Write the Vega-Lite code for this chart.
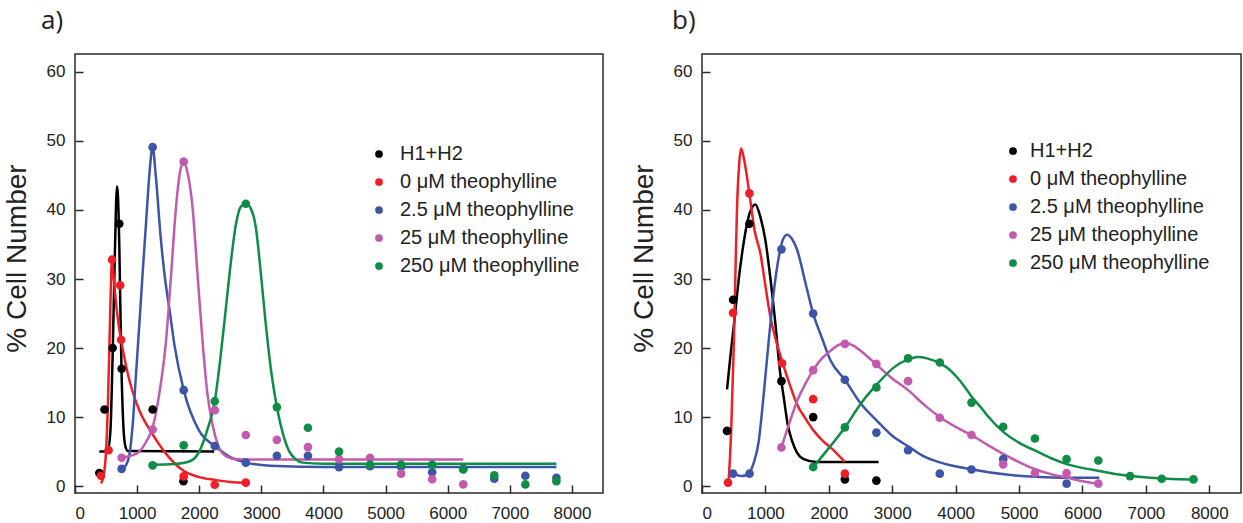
{
  "$schema": "https://vega.github.io/schema/vega-lite/v6.json",
  "padding": {"left": 2, "top": 7, "right": 0, "bottom": 0},
  "background": "white",
  "config": {
    "font": "Liberation Sans",
    "view": {"stroke": "#2a2a2a", "strokeWidth": 1.5},
    "axis": {"domain": false, "grid": false, "tickColor": "#2a2a2a", "tickWidth": 1.5, "labelFontSize": 17, "labelColor": "#222", "titleColor": "#222", "titleFontWeight": "normal", "titleFontSize": 28, "titleFont": "Liberation Sans"},
    "legend": {"orient": "none", "title": null, "labelFontSize": 20, "labelColor": "#222", "labelLimit": 300, "symbolType": "circle", "symbolSize": 60, "symbolStrokeWidth": 0, "padding": 0, "rowPadding": 8, "labelOffset": 14},
    "title": {"fontSize": 26, "font": "Open Sans", "fontWeight": "normal", "anchor": "start", "frame": "bounds", "color": "#222"}
  },
  "datasets": {
    "a_pts": [
      {"series": "H1+H2", "fluor": 392, "pct": 1.9},
      {"series": "H1+H2", "fluor": 475, "pct": 11.1},
      {"series": "H1+H2", "fluor": 606, "pct": 20.0},
      {"series": "H1+H2", "fluor": 713, "pct": 38.0},
      {"series": "H1+H2", "fluor": 751, "pct": 17.0},
      {"series": "H1+H2", "fluor": 1250, "pct": 11.1},
      {"series": "H1+H2", "fluor": 1746, "pct": 0.7},
      {"series": "0 μM theophylline", "fluor": 418, "pct": 1.5},
      {"series": "0 μM theophylline", "fluor": 540, "pct": 5.2},
      {"series": "0 μM theophylline", "fluor": 596, "pct": 32.8},
      {"series": "0 μM theophylline", "fluor": 727, "pct": 29.1},
      {"series": "0 μM theophylline", "fluor": 743, "pct": 21.2},
      {"series": "0 μM theophylline", "fluor": 1750, "pct": 1.4},
      {"series": "0 μM theophylline", "fluor": 2250, "pct": 0.2},
      {"series": "0 μM theophylline", "fluor": 2750, "pct": 0.5},
      {"series": "2.5 μM theophylline", "fluor": 751, "pct": 2.5},
      {"series": "2.5 μM theophylline", "fluor": 1250, "pct": 49.1},
      {"series": "2.5 μM theophylline", "fluor": 1750, "pct": 13.9},
      {"series": "2.5 μM theophylline", "fluor": 2250, "pct": 5.8},
      {"series": "2.5 μM theophylline", "fluor": 2750, "pct": 3.4},
      {"series": "2.5 μM theophylline", "fluor": 3250, "pct": 4.4},
      {"series": "2.5 μM theophylline", "fluor": 3750, "pct": 4.4},
      {"series": "2.5 μM theophylline", "fluor": 4250, "pct": 2.75},
      {"series": "2.5 μM theophylline", "fluor": 4750, "pct": 2.9},
      {"series": "2.5 μM theophylline", "fluor": 5250, "pct": 2.8},
      {"series": "2.5 μM theophylline", "fluor": 5750, "pct": 2.0},
      {"series": "2.5 μM theophylline", "fluor": 6250, "pct": 2.5},
      {"series": "2.5 μM theophylline", "fluor": 6750, "pct": 1.06},
      {"series": "2.5 μM theophylline", "fluor": 7250, "pct": 1.5},
      {"series": "2.5 μM theophylline", "fluor": 7750, "pct": 1.2},
      {"series": "25 μM theophylline", "fluor": 751, "pct": 4.1},
      {"series": "25 μM theophylline", "fluor": 1250, "pct": 8.2},
      {"series": "25 μM theophylline", "fluor": 1750, "pct": 47.0},
      {"series": "25 μM theophylline", "fluor": 2250, "pct": 11.0},
      {"series": "25 μM theophylline", "fluor": 2750, "pct": 7.4},
      {"series": "25 μM theophylline", "fluor": 3250, "pct": 6.7},
      {"series": "25 μM theophylline", "fluor": 3750, "pct": 5.65},
      {"series": "25 μM theophylline", "fluor": 4250, "pct": 3.9},
      {"series": "25 μM theophylline", "fluor": 4750, "pct": 4.1},
      {"series": "25 μM theophylline", "fluor": 5250, "pct": 1.8},
      {"series": "25 μM theophylline", "fluor": 5750, "pct": 1.0},
      {"series": "25 μM theophylline", "fluor": 6250, "pct": 0.25},
      {"series": "250 μM theophylline", "fluor": 1250, "pct": 3.0},
      {"series": "250 μM theophylline", "fluor": 1750, "pct": 5.9},
      {"series": "250 μM theophylline", "fluor": 2250, "pct": 12.3},
      {"series": "250 μM theophylline", "fluor": 2750, "pct": 40.9},
      {"series": "250 μM theophylline", "fluor": 3250, "pct": 11.45},
      {"series": "250 μM theophylline", "fluor": 3750, "pct": 8.45},
      {"series": "250 μM theophylline", "fluor": 4250, "pct": 5.0},
      {"series": "250 μM theophylline", "fluor": 4750, "pct": 3.1},
      {"series": "250 μM theophylline", "fluor": 5250, "pct": 3.1},
      {"series": "250 μM theophylline", "fluor": 5750, "pct": 3.1},
      {"series": "250 μM theophylline", "fluor": 6250, "pct": 2.4},
      {"series": "250 μM theophylline", "fluor": 6750, "pct": 1.55},
      {"series": "250 μM theophylline", "fluor": 7250, "pct": 0.24},
      {"series": "250 μM theophylline", "fluor": 7750, "pct": 0.72}
    ],
    "a_fit": [
      {"series": "H1+H2", "fluor": 392, "pct": 5.0},
      {"series": "H1+H2", "fluor": 526, "pct": 5.1},
      {"series": "H1+H2", "fluor": 570, "pct": 8.0},
      {"series": "H1+H2", "fluor": 606, "pct": 19.0},
      {"series": "H1+H2", "fluor": 640, "pct": 33.0},
      {"series": "H1+H2", "fluor": 676, "pct": 43.4},
      {"series": "H1+H2", "fluor": 700, "pct": 40.0},
      {"series": "H1+H2", "fluor": 713, "pct": 35.0},
      {"series": "H1+H2", "fluor": 730, "pct": 26.0},
      {"series": "H1+H2", "fluor": 751, "pct": 16.0},
      {"series": "H1+H2", "fluor": 780, "pct": 8.5},
      {"series": "H1+H2", "fluor": 810, "pct": 5.8},
      {"series": "H1+H2", "fluor": 848, "pct": 5.1},
      {"series": "H1+H2", "fluor": 2240, "pct": 5.0},
      {"series": "0 μM theophylline", "fluor": 420, "pct": 0.4},
      {"series": "0 μM theophylline", "fluor": 470, "pct": 2.0},
      {"series": "0 μM theophylline", "fluor": 500, "pct": 5.0},
      {"series": "0 μM theophylline", "fluor": 530, "pct": 12.0},
      {"series": "0 μM theophylline", "fluor": 556, "pct": 21.0},
      {"series": "0 μM theophylline", "fluor": 575, "pct": 28.0},
      {"series": "0 μM theophylline", "fluor": 596, "pct": 32.8},
      {"series": "0 μM theophylline", "fluor": 620, "pct": 30.5},
      {"series": "0 μM theophylline", "fluor": 660, "pct": 26.5},
      {"series": "0 μM theophylline", "fluor": 700, "pct": 23.5},
      {"series": "0 μM theophylline", "fluor": 745, "pct": 21.0},
      {"series": "0 μM theophylline", "fluor": 820, "pct": 17.5},
      {"series": "0 μM theophylline", "fluor": 900, "pct": 14.5},
      {"series": "0 μM theophylline", "fluor": 1035, "pct": 11.0},
      {"series": "0 μM theophylline", "fluor": 1250, "pct": 7.5},
      {"series": "0 μM theophylline", "fluor": 1500, "pct": 4.3},
      {"series": "0 μM theophylline", "fluor": 1750, "pct": 2.2},
      {"series": "0 μM theophylline", "fluor": 2000, "pct": 1.3},
      {"series": "0 μM theophylline", "fluor": 2250, "pct": 0.9},
      {"series": "0 μM theophylline", "fluor": 2500, "pct": 0.6},
      {"series": "0 μM theophylline", "fluor": 2750, "pct": 0.5},
      {"series": "2.5 μM theophylline", "fluor": 751, "pct": 2.5},
      {"series": "2.5 μM theophylline", "fluor": 820, "pct": 3.0},
      {"series": "2.5 μM theophylline", "fluor": 875, "pct": 4.5},
      {"series": "2.5 μM theophylline", "fluor": 930, "pct": 9.0},
      {"series": "2.5 μM theophylline", "fluor": 982, "pct": 16.2},
      {"series": "2.5 μM theophylline", "fluor": 1040, "pct": 24.0},
      {"series": "2.5 μM theophylline", "fluor": 1088, "pct": 30.7},
      {"series": "2.5 μM theophylline", "fluor": 1150, "pct": 39.0},
      {"series": "2.5 μM theophylline", "fluor": 1196, "pct": 45.0},
      {"series": "2.5 μM theophylline", "fluor": 1250, "pct": 49.1},
      {"series": "2.5 μM theophylline", "fluor": 1300, "pct": 45.0},
      {"series": "2.5 μM theophylline", "fluor": 1380, "pct": 36.0},
      {"series": "2.5 μM theophylline", "fluor": 1450, "pct": 30.0},
      {"series": "2.5 μM theophylline", "fluor": 1518, "pct": 25.8},
      {"series": "2.5 μM theophylline", "fluor": 1600, "pct": 20.5},
      {"series": "2.5 μM theophylline", "fluor": 1750, "pct": 13.9},
      {"series": "2.5 μM theophylline", "fluor": 2000, "pct": 8.0},
      {"series": "2.5 μM theophylline", "fluor": 2250, "pct": 5.8},
      {"series": "2.5 μM theophylline", "fluor": 2500, "pct": 4.2},
      {"series": "2.5 μM theophylline", "fluor": 2750, "pct": 3.4},
      {"series": "2.5 μM theophylline", "fluor": 3250, "pct": 2.9},
      {"series": "2.5 μM theophylline", "fluor": 4000, "pct": 2.75},
      {"series": "2.5 μM theophylline", "fluor": 7750, "pct": 2.75},
      {"series": "25 μM theophylline", "fluor": 751, "pct": 4.1},
      {"series": "25 μM theophylline", "fluor": 900, "pct": 4.4},
      {"series": "25 μM theophylline", "fluor": 1035, "pct": 5.0},
      {"series": "25 μM theophylline", "fluor": 1150, "pct": 6.5},
      {"series": "25 μM theophylline", "fluor": 1250, "pct": 8.5},
      {"series": "25 μM theophylline", "fluor": 1350, "pct": 13.0},
      {"series": "25 μM theophylline", "fluor": 1465, "pct": 21.0},
      {"series": "25 μM theophylline", "fluor": 1550, "pct": 31.0},
      {"series": "25 μM theophylline", "fluor": 1625, "pct": 40.3},
      {"series": "25 μM theophylline", "fluor": 1690, "pct": 45.5},
      {"series": "25 μM theophylline", "fluor": 1750, "pct": 47.0},
      {"series": "25 μM theophylline", "fluor": 1810, "pct": 45.5},
      {"series": "25 μM theophylline", "fluor": 1893, "pct": 40.3},
      {"series": "25 μM theophylline", "fluor": 1970, "pct": 31.0},
      {"series": "25 μM theophylline", "fluor": 2053, "pct": 21.0},
      {"series": "25 μM theophylline", "fluor": 2130, "pct": 13.5},
      {"series": "25 μM theophylline", "fluor": 2214, "pct": 8.9},
      {"series": "25 μM theophylline", "fluor": 2300, "pct": 6.0},
      {"series": "25 μM theophylline", "fluor": 2429, "pct": 4.35},
      {"series": "25 μM theophylline", "fluor": 2600, "pct": 3.9},
      {"series": "25 μM theophylline", "fluor": 3000, "pct": 3.86},
      {"series": "25 μM theophylline", "fluor": 6250, "pct": 3.86},
      {"series": "250 μM theophylline", "fluor": 1250, "pct": 3.1},
      {"series": "250 μM theophylline", "fluor": 1600, "pct": 3.2},
      {"series": "250 μM theophylline", "fluor": 1850, "pct": 3.6},
      {"series": "250 μM theophylline", "fluor": 2000, "pct": 5.0},
      {"series": "250 μM theophylline", "fluor": 2125, "pct": 8.0},
      {"series": "250 μM theophylline", "fluor": 2250, "pct": 12.3},
      {"series": "250 μM theophylline", "fluor": 2340, "pct": 18.5},
      {"series": "250 μM theophylline", "fluor": 2429, "pct": 25.8},
      {"series": "250 μM theophylline", "fluor": 2510, "pct": 32.5},
      {"series": "250 μM theophylline", "fluor": 2590, "pct": 37.9},
      {"series": "250 μM theophylline", "fluor": 2670, "pct": 40.5},
      {"series": "250 μM theophylline", "fluor": 2750, "pct": 40.9},
      {"series": "250 μM theophylline", "fluor": 2830, "pct": 40.2},
      {"series": "250 μM theophylline", "fluor": 2911, "pct": 37.5},
      {"series": "250 μM theophylline", "fluor": 2990, "pct": 31.0},
      {"series": "250 μM theophylline", "fluor": 3072, "pct": 23.4},
      {"series": "250 μM theophylline", "fluor": 3160, "pct": 16.5},
      {"series": "250 μM theophylline", "fluor": 3250, "pct": 11.45},
      {"series": "250 μM theophylline", "fluor": 3350, "pct": 7.5},
      {"series": "250 μM theophylline", "fluor": 3447, "pct": 5.07},
      {"series": "250 μM theophylline", "fluor": 3550, "pct": 3.9},
      {"series": "250 μM theophylline", "fluor": 3660, "pct": 3.4},
      {"series": "250 μM theophylline", "fluor": 4000, "pct": 3.25},
      {"series": "250 μM theophylline", "fluor": 7750, "pct": 3.25}
    ],
    "b_pts": [
      {"series": "H1+H2", "fluor": 395, "pct": 8.0},
      {"series": "H1+H2", "fluor": 490, "pct": 27.0},
      {"series": "H1+H2", "fluor": 747, "pct": 38.0},
      {"series": "H1+H2", "fluor": 1253, "pct": 15.2},
      {"series": "H1+H2", "fluor": 1753, "pct": 10.0},
      {"series": "H1+H2", "fluor": 2253, "pct": 0.97},
      {"series": "H1+H2", "fluor": 2750, "pct": 0.8},
      {"series": "0 μM theophylline", "fluor": 410, "pct": 0.5},
      {"series": "0 μM theophylline", "fluor": 490, "pct": 25.1},
      {"series": "0 μM theophylline", "fluor": 747, "pct": 42.4},
      {"series": "0 μM theophylline", "fluor": 1263, "pct": 17.8},
      {"series": "0 μM theophylline", "fluor": 1753, "pct": 12.6},
      {"series": "0 μM theophylline", "fluor": 2253, "pct": 1.8},
      {"series": "2.5 μM theophylline", "fluor": 490, "pct": 1.8},
      {"series": "2.5 μM theophylline", "fluor": 750, "pct": 1.8},
      {"series": "2.5 μM theophylline", "fluor": 1253, "pct": 34.3},
      {"series": "2.5 μM theophylline", "fluor": 1753, "pct": 25.0},
      {"series": "2.5 μM theophylline", "fluor": 2253, "pct": 15.4},
      {"series": "2.5 μM theophylline", "fluor": 2750, "pct": 7.75},
      {"series": "2.5 μM theophylline", "fluor": 3250, "pct": 5.2},
      {"series": "2.5 μM theophylline", "fluor": 3750, "pct": 1.8},
      {"series": "2.5 μM theophylline", "fluor": 4250, "pct": 2.4},
      {"series": "2.5 μM theophylline", "fluor": 4750, "pct": 3.9},
      {"series": "2.5 μM theophylline", "fluor": 5750, "pct": 0.35},
      {"series": "25 μM theophylline", "fluor": 1253, "pct": 5.6},
      {"series": "25 μM theophylline", "fluor": 1753, "pct": 16.8},
      {"series": "25 μM theophylline", "fluor": 2253, "pct": 20.6},
      {"series": "25 μM theophylline", "fluor": 2750, "pct": 17.7},
      {"series": "25 μM theophylline", "fluor": 3250, "pct": 15.2},
      {"series": "25 μM theophylline", "fluor": 3750, "pct": 9.9},
      {"series": "25 μM theophylline", "fluor": 4250, "pct": 7.4},
      {"series": "25 μM theophylline", "fluor": 4750, "pct": 3.15},
      {"series": "25 μM theophylline", "fluor": 5250, "pct": 1.9},
      {"series": "25 μM theophylline", "fluor": 5750, "pct": 1.9},
      {"series": "25 μM theophylline", "fluor": 6250, "pct": 0.35},
      {"series": "250 μM theophylline", "fluor": 1753, "pct": 2.76},
      {"series": "250 μM theophylline", "fluor": 2253, "pct": 8.5},
      {"series": "250 μM theophylline", "fluor": 2750, "pct": 14.3},
      {"series": "250 μM theophylline", "fluor": 3250, "pct": 18.5},
      {"series": "250 μM theophylline", "fluor": 3750, "pct": 17.9},
      {"series": "250 μM theophylline", "fluor": 4250, "pct": 12.1},
      {"series": "250 μM theophylline", "fluor": 4750, "pct": 8.6},
      {"series": "250 μM theophylline", "fluor": 5250, "pct": 6.9},
      {"series": "250 μM theophylline", "fluor": 5750, "pct": 3.9},
      {"series": "250 μM theophylline", "fluor": 6250, "pct": 3.7},
      {"series": "250 μM theophylline", "fluor": 6750, "pct": 1.45},
      {"series": "250 μM theophylline", "fluor": 7250, "pct": 1.06},
      {"series": "250 μM theophylline", "fluor": 7750, "pct": 0.97}
    ],
    "b_fit": [
      {"series": "H1+H2", "fluor": 395, "pct": 14.0},
      {"series": "H1+H2", "fluor": 450, "pct": 19.0},
      {"series": "H1+H2", "fluor": 505, "pct": 23.5},
      {"series": "H1+H2", "fluor": 580, "pct": 30.0},
      {"series": "H1+H2", "fluor": 663, "pct": 35.6},
      {"series": "H1+H2", "fluor": 750, "pct": 39.5},
      {"series": "H1+H2", "fluor": 842, "pct": 40.8},
      {"series": "H1+H2", "fluor": 920, "pct": 39.0},
      {"series": "H1+H2", "fluor": 1000, "pct": 35.6},
      {"series": "H1+H2", "fluor": 1080, "pct": 30.0},
      {"series": "H1+H2", "fluor": 1158, "pct": 23.5},
      {"series": "H1+H2", "fluor": 1225, "pct": 17.0},
      {"series": "H1+H2", "fluor": 1290, "pct": 12.8},
      {"series": "H1+H2", "fluor": 1350, "pct": 9.0},
      {"series": "H1+H2", "fluor": 1422, "pct": 6.5},
      {"series": "H1+H2", "fluor": 1500, "pct": 4.8},
      {"series": "H1+H2", "fluor": 1605, "pct": 3.9},
      {"series": "H1+H2", "fluor": 1800, "pct": 3.5},
      {"series": "H1+H2", "fluor": 2785, "pct": 3.5},
      {"series": "0 μM theophylline", "fluor": 420, "pct": 0.6},
      {"series": "0 μM theophylline", "fluor": 460, "pct": 8.0},
      {"series": "0 μM theophylline", "fluor": 505, "pct": 21.6},
      {"series": "0 μM theophylline", "fluor": 530, "pct": 32.0},
      {"series": "0 μM theophylline", "fluor": 553, "pct": 40.5},
      {"series": "0 μM theophylline", "fluor": 585, "pct": 46.5},
      {"series": "0 μM theophylline", "fluor": 616, "pct": 48.9},
      {"series": "0 μM theophylline", "fluor": 660, "pct": 47.5},
      {"series": "0 μM theophylline", "fluor": 747, "pct": 42.4},
      {"series": "0 μM theophylline", "fluor": 830, "pct": 37.0},
      {"series": "0 μM theophylline", "fluor": 921, "pct": 33.7},
      {"series": "0 μM theophylline", "fluor": 1000, "pct": 29.0},
      {"series": "0 μM theophylline", "fluor": 1079, "pct": 24.5},
      {"series": "0 μM theophylline", "fluor": 1170, "pct": 21.0},
      {"series": "0 μM theophylline", "fluor": 1263, "pct": 18.1},
      {"series": "0 μM theophylline", "fluor": 1380, "pct": 14.8},
      {"series": "0 μM theophylline", "fluor": 1496, "pct": 11.9},
      {"series": "0 μM theophylline", "fluor": 1630, "pct": 9.8},
      {"series": "0 μM theophylline", "fluor": 1763, "pct": 8.0},
      {"series": "0 μM theophylline", "fluor": 1900, "pct": 6.6},
      {"series": "0 μM theophylline", "fluor": 2027, "pct": 5.6},
      {"series": "0 μM theophylline", "fluor": 2150, "pct": 4.5},
      {"series": "0 μM theophylline", "fluor": 2253, "pct": 3.5},
      {"series": "2.5 μM theophylline", "fluor": 490, "pct": 1.8},
      {"series": "2.5 μM theophylline", "fluor": 632, "pct": 1.45},
      {"series": "2.5 μM theophylline", "fluor": 750, "pct": 2.0},
      {"series": "2.5 μM theophylline", "fluor": 820, "pct": 3.5},
      {"series": "2.5 μM theophylline", "fluor": 895, "pct": 6.5},
      {"series": "2.5 μM theophylline", "fluor": 970, "pct": 13.0},
      {"series": "2.5 μM theophylline", "fluor": 1053, "pct": 21.1},
      {"series": "2.5 μM theophylline", "fluor": 1130, "pct": 28.0},
      {"series": "2.5 μM theophylline", "fluor": 1211, "pct": 33.2},
      {"series": "2.5 μM theophylline", "fluor": 1280, "pct": 35.8},
      {"series": "2.5 μM theophylline", "fluor": 1343, "pct": 36.4},
      {"series": "2.5 μM theophylline", "fluor": 1420, "pct": 35.8},
      {"series": "2.5 μM theophylline", "fluor": 1501, "pct": 34.2},
      {"series": "2.5 μM theophylline", "fluor": 1630, "pct": 29.5},
      {"series": "2.5 μM theophylline", "fluor": 1753, "pct": 25.0},
      {"series": "2.5 μM theophylline", "fluor": 1890, "pct": 21.5},
      {"series": "2.5 μM theophylline", "fluor": 2027, "pct": 18.2},
      {"series": "2.5 μM theophylline", "fluor": 2253, "pct": 15.4},
      {"series": "2.5 μM theophylline", "fluor": 2500, "pct": 12.0},
      {"series": "2.5 μM theophylline", "fluor": 2760, "pct": 9.45},
      {"series": "2.5 μM theophylline", "fluor": 3000, "pct": 7.3},
      {"series": "2.5 μM theophylline", "fluor": 3264, "pct": 5.7},
      {"series": "2.5 μM theophylline", "fluor": 3500, "pct": 4.3},
      {"series": "2.5 μM theophylline", "fluor": 3765, "pct": 3.4},
      {"series": "2.5 μM theophylline", "fluor": 4265, "pct": 2.4},
      {"series": "2.5 μM theophylline", "fluor": 4765, "pct": 1.7},
      {"series": "2.5 μM theophylline", "fluor": 5265, "pct": 1.35},
      {"series": "2.5 μM theophylline", "fluor": 5766, "pct": 1.2},
      {"series": "2.5 μM theophylline", "fluor": 6265, "pct": 1.2},
      {"series": "25 μM theophylline", "fluor": 1253, "pct": 5.6},
      {"series": "25 μM theophylline", "fluor": 1380, "pct": 9.2},
      {"series": "25 μM theophylline", "fluor": 1501, "pct": 12.35},
      {"series": "25 μM theophylline", "fluor": 1630, "pct": 14.8},
      {"series": "25 μM theophylline", "fluor": 1753, "pct": 16.8},
      {"series": "25 μM theophylline", "fluor": 1890, "pct": 18.5},
      {"series": "25 μM theophylline", "fluor": 2027, "pct": 19.6},
      {"series": "25 μM theophylline", "fluor": 2140, "pct": 20.4},
      {"series": "25 μM theophylline", "fluor": 2253, "pct": 20.7},
      {"series": "25 μM theophylline", "fluor": 2380, "pct": 20.4},
      {"series": "25 μM theophylline", "fluor": 2501, "pct": 19.6},
      {"series": "25 μM theophylline", "fluor": 2630, "pct": 18.6},
      {"series": "25 μM theophylline", "fluor": 2764, "pct": 17.5},
      {"series": "25 μM theophylline", "fluor": 3000, "pct": 15.6},
      {"series": "25 μM theophylline", "fluor": 3264, "pct": 13.8},
      {"series": "25 μM theophylline", "fluor": 3500, "pct": 11.8},
      {"series": "25 μM theophylline", "fluor": 3765, "pct": 9.9},
      {"series": "25 μM theophylline", "fluor": 4015, "pct": 8.5},
      {"series": "25 μM theophylline", "fluor": 4265, "pct": 7.3},
      {"series": "25 μM theophylline", "fluor": 4515, "pct": 5.9},
      {"series": "25 μM theophylline", "fluor": 4765, "pct": 4.6},
      {"series": "25 μM theophylline", "fluor": 5015, "pct": 3.4},
      {"series": "25 μM theophylline", "fluor": 5265, "pct": 2.4},
      {"series": "25 μM theophylline", "fluor": 5516, "pct": 1.7},
      {"series": "25 μM theophylline", "fluor": 5766, "pct": 1.2},
      {"series": "25 μM theophylline", "fluor": 6000, "pct": 0.7},
      {"series": "25 μM theophylline", "fluor": 6265, "pct": 0.3},
      {"series": "250 μM theophylline", "fluor": 1753, "pct": 2.76},
      {"series": "250 μM theophylline", "fluor": 2000, "pct": 5.5},
      {"series": "250 μM theophylline", "fluor": 2253, "pct": 8.5},
      {"series": "250 μM theophylline", "fluor": 2501, "pct": 11.9},
      {"series": "250 μM theophylline", "fluor": 2764, "pct": 14.8},
      {"series": "250 μM theophylline", "fluor": 3027, "pct": 17.2},
      {"series": "250 μM theophylline", "fluor": 3264, "pct": 18.4},
      {"series": "250 μM theophylline", "fluor": 3400, "pct": 18.7},
      {"series": "250 μM theophylline", "fluor": 3550, "pct": 18.5},
      {"series": "250 μM theophylline", "fluor": 3765, "pct": 17.7},
      {"series": "250 μM theophylline", "fluor": 3900, "pct": 16.9},
      {"series": "250 μM theophylline", "fluor": 4029, "pct": 15.7},
      {"series": "250 μM theophylline", "fluor": 4150, "pct": 14.3},
      {"series": "250 μM theophylline", "fluor": 4265, "pct": 12.8},
      {"series": "250 μM theophylline", "fluor": 4390, "pct": 11.5},
      {"series": "250 μM theophylline", "fluor": 4502, "pct": 10.2},
      {"series": "250 μM theophylline", "fluor": 4765, "pct": 7.75},
      {"series": "250 μM theophylline", "fluor": 5015, "pct": 6.2},
      {"series": "250 μM theophylline", "fluor": 5265, "pct": 5.1},
      {"series": "250 μM theophylline", "fluor": 5516, "pct": 4.0},
      {"series": "250 μM theophylline", "fluor": 5766, "pct": 3.15},
      {"series": "250 μM theophylline", "fluor": 6015, "pct": 2.6},
      {"series": "250 μM theophylline", "fluor": 6265, "pct": 2.2},
      {"series": "250 μM theophylline", "fluor": 6516, "pct": 1.75},
      {"series": "250 μM theophylline", "fluor": 6766, "pct": 1.45},
      {"series": "250 μM theophylline", "fluor": 7016, "pct": 1.25},
      {"series": "250 μM theophylline", "fluor": 7266, "pct": 1.1},
      {"series": "250 μM theophylline", "fluor": 7516, "pct": 1.0},
      {"series": "250 μM theophylline", "fluor": 7765, "pct": 0.97}
    ]
  },
  "resolve": {"scale": {"color": "independent", "x": "independent", "y": "independent"}, "legend": {"color": "independent"}},
  "spacing": 25,
  "hconcat": [
    {
      "width": 528,
      "height": 439,
      "title": {"text": "a)", "dx": 38, "offset": 20},
      "layer": [
        {
          "data": {"name": "a_fit"},
          "mark": {"type": "line", "interpolate": "monotone", "strokeWidth": 2.5},
          "encoding": {
            "x": {"field": "fluor", "type": "quantitative", "scale": {"domain": [0, 8500], "nice": false}, "axis": {"title": null, "values": [0, 500, 1000, 1500, 2000, 2500, 3000, 3500, 4000, 4500, 5000, 5500, 6000, 6500, 7000, 7500, 8000], "format": "d", "labelExpr": "datum.value % 1000 === 0 ? datum.label : ''", "tickSize": {"condition": {"test": "datum.value % 1000 === 0", "value": -8}, "value": -5}, "labelPadding": 20}},
            "y": {"field": "pct", "type": "quantitative", "scale": {"domain": [-1, 62.6], "nice": false, "zero": false}, "axis": {"title": "% Cell Number", "titleY": 204, "values": [0, 5, 10, 15, 20, 25, 30, 35, 40, 45, 50, 55, 60], "labelExpr": "datum.value % 10 === 0 ? datum.label : ''", "tickSize": {"condition": {"test": "datum.value % 10 === 0", "value": -8}, "value": -5}, "labelPadding": 18, "titlePadding": 15}},
            "color": {"field": "series", "type": "nominal", "scale": {"domain": ["H1+H2", "0 μM theophylline", "2.5 μM theophylline", "25 μM theophylline", "250 μM theophylline"], "range": ["#000000", "#ee1f26", "#3c55a6", "#c25aae", "#0f8c45"]}, "legend": {"legendX": 294, "legendY": 90, "labelOffset": 11}}
          }
        },
        {
          "data": {"name": "a_pts"},
          "mark": {"type": "circle", "size": 75, "opacity": 1},
          "encoding": {
            "x": {"field": "fluor", "type": "quantitative"},
            "y": {"field": "pct", "type": "quantitative"},
            "color": {"field": "series", "type": "nominal", "scale": {"domain": ["H1+H2", "0 μM theophylline", "2.5 μM theophylline", "25 μM theophylline", "250 μM theophylline"], "range": ["#000000", "#ee1f26", "#3c55a6", "#c25aae", "#0f8c45"]}, "legend": {"legendX": 294, "legendY": 90, "labelOffset": 11}}
          }
        }
      ]
    },
    {
      "width": 539,
      "height": 439,
      "title": {"text": "b)", "dx": 42, "offset": 20},
      "layer": [
        {
          "data": {"name": "b_fit"},
          "mark": {"type": "line", "interpolate": "monotone", "strokeWidth": 2.5},
          "encoding": {
            "x": {"field": "fluor", "type": "quantitative", "scale": {"domain": [0, 8500], "nice": false}, "axis": {"title": null, "values": [0, 500, 1000, 1500, 2000, 2500, 3000, 3500, 4000, 4500, 5000, 5500, 6000, 6500, 7000, 7500, 8000], "format": "d", "labelExpr": "datum.value % 1000 === 0 ? datum.label : ''", "tickSize": {"condition": {"test": "datum.value % 1000 === 0", "value": -8}, "value": -5}, "labelPadding": 20}},
            "y": {"field": "pct", "type": "quantitative", "scale": {"domain": [-1, 62.6], "nice": false, "zero": false}, "axis": {"title": "% Cell Number", "titleY": 204, "values": [0, 5, 10, 15, 20, 25, 30, 35, 40, 45, 50, 55, 60], "labelExpr": "datum.value % 10 === 0 ? datum.label : ''", "tickSize": {"condition": {"test": "datum.value % 10 === 0", "value": -8}, "value": -5}, "labelPadding": 18, "titlePadding": 15}},
            "color": {"field": "series", "type": "nominal", "scale": {"domain": ["H1+H2", "0 μM theophylline", "2.5 μM theophylline", "25 μM theophylline", "250 μM theophylline"], "range": ["#000000", "#ee1f26", "#3c55a6", "#c25aae", "#0f8c45"]}, "legend": {"legendX": 301, "legendY": 87, "labelOffset": 7}}
          }
        },
        {
          "data": {"name": "b_pts"},
          "mark": {"type": "circle", "size": 75, "opacity": 1},
          "encoding": {
            "x": {"field": "fluor", "type": "quantitative"},
            "y": {"field": "pct", "type": "quantitative"},
            "color": {"field": "series", "type": "nominal", "scale": {"domain": ["H1+H2", "0 μM theophylline", "2.5 μM theophylline", "25 μM theophylline", "250 μM theophylline"], "range": ["#000000", "#ee1f26", "#3c55a6", "#c25aae", "#0f8c45"]}, "legend": {"legendX": 301, "legendY": 87, "labelOffset": 7}}
          }
        }
      ]
    }
  ]
}
